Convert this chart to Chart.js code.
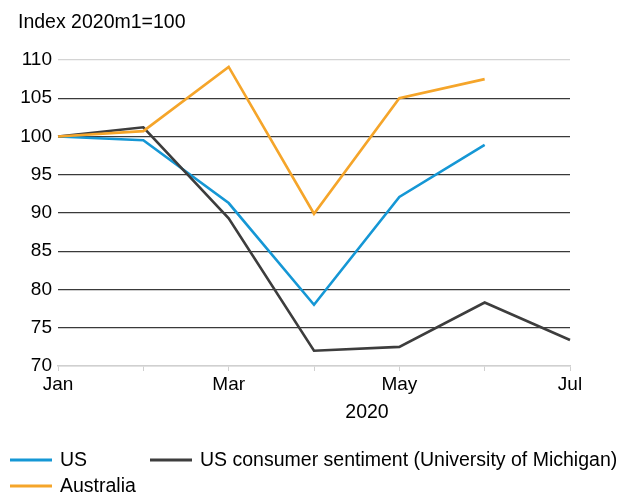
<!DOCTYPE html>
<html>
<head>
<meta charset="utf-8">
<script src="https://cdn.jsdelivr.net/npm/chart.js@4/dist/chart.umd.min.js"></script>
<style>
  html, body { margin: 0; padding: 0; background: #fff; }
  #wrap { width: 619px; height: 494px; }
</style>
</head>
<body>
<div id="wrap"><canvas id="lineChart" width="619" height="494"></canvas></div>
<script>
// data
const months = ['Jan', 'Feb', 'Mar', 'Apr', 'May', 'Jun', 'Jul'];
const usIndex = [100, 99.5, 91.3, 78, 92.1, 98.9, null];
const australiaIndex = [100, 100.7, 109.1, 89.9, 105, 107.5, null];
const sentimentIndex = [100, 101.2, 89.3, 72, 72.5, 78.3, 73.4];
const yMin = 70, yMax = 110, yStep = 5;
const shownMonths = ['Jan', 'Mar', 'May', 'Jul'];

const FONT = '"Liberation Sans", Arial, sans-serif';
const BLUE = '#1597d5';
const ORANGE = '#f5a52a';
const DARK = '#3d3d3d';

const legendItems = [
    { text: 'US', color: BLUE, x: 10, y: 460 },
    { text: 'US consumer sentiment (University of Michigan)', color: DARK, x: 150, y: 460 },
    { text: 'Australia', color: ORANGE, x: 10, y: 486 }
];

const extrasPlugin = {
    id: 'extras',
    afterDraw(chart) {
        const c = chart.ctx;
        c.save();
        c.fillStyle = '#000';
        c.font = '19.5px ' + FONT;
        c.textBaseline = 'alphabetic';
        c.textAlign = 'left';
        c.fillText('Index 2020m1=100', 18, 28);
        c.textAlign = 'center';
        c.fillText('2020', 367, 418);
        c.textAlign = 'left';
        c.textBaseline = 'middle';
        legendItems.forEach(it => {
            c.strokeStyle = it.color;
            c.lineWidth = 3;
            c.beginPath();
            c.moveTo(it.x, it.y);
            c.lineTo(it.x + 42, it.y);
            c.stroke();
            c.fillText(it.text, it.x + 50, it.y + 1);
        });
        c.restore();
    }
};

new Chart(document.getElementById('lineChart'), {
    type: 'line',
    data: {
        labels: months,
        datasets: [
            { label: 'US', data: usIndex, borderColor: BLUE, order: 3 },
            { label: 'US consumer sentiment (University of Michigan)', data: sentimentIndex, borderColor: DARK, order: 2 },
            { label: 'Australia', data: australiaIndex, borderColor: ORANGE, order: 1 }
        ]
    },
    options: {
        responsive: false,
        animation: false,
        events: [],
        layout: { padding: { left: 0, right: 49, top: 60, bottom: 98 } },
        elements: {
            line: { borderWidth: 2.6, tension: 0, fill: false },
            point: { radius: 0 }
        },
        plugins: {
            legend: { display: false },
            tooltip: { enabled: false }
        },
        scales: {
            x: {
                offset: false,
                afterFit(scale) { scale.height = 30; },
                border: { display: true, color: '#d0d0d0', width: 1.5 },
                grid: { drawOnChartArea: false, drawTicks: true, tickLength: 5, color: '#d0d0d0' },
                ticks: {
                    color: '#000',
                    font: { family: FONT, size: 19 },
                    padding: 2,
                    autoSkip: false,
                    maxRotation: 0,
                    callback(val, i) {
                        const m = months[i];
                        return shownMonths.includes(m) ? m : '';
                    }
                }
            },
            y: {
                min: yMin,
                max: yMax,
                afterFit(scale) { scale.width = 58; },
                border: { display: false },
                grid: {
                    drawTicks: false,
                    lineWidth: 1.2,
                    color(ctx) {
                        const v = ctx.tick && ctx.tick.value;
                        if (v === yMax) return '#d4d4d4';
                        if (v === yMin) return '#d0d0d0';
                        return '#3a3a3a';
                    }
                },
                ticks: {
                    stepSize: yStep,
                    color: '#000',
                    padding: 6,
                    font: { family: FONT, size: 19 }
                }
            }
        }
    },
    plugins: [extrasPlugin]
});
</script>
</body>
</html>
